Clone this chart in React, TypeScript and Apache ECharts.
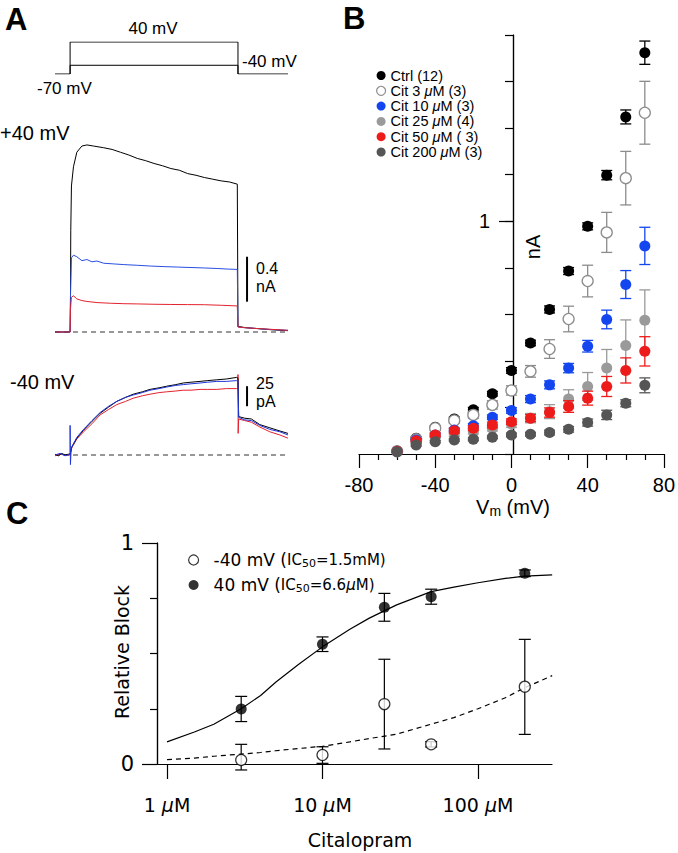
import React, { useEffect, useRef } from 'react';
import * as echarts from 'echarts';

const FONT_A = '"Liberation Sans", Arial, Helvetica, sans-serif';
const FONT_C = '"DejaVu Sans", Verdana, sans-serif';

// ---------- Panel A: voltage protocol (time in ms, mV) ----------
const protocolTo40: [number, number][] = [[-45, -70], [0, -70], [0, 40], [500, 40], [500, -70], [649, -70]];
const protocolToNeg40: [number, number][] = [[0, -70], [0, -40], [500, -40], [500, -70]];

// ---------- Panel A: +40 mV currents (nA) ----------
const top40Black: [number, number][] = [[-45, 0], [0, 0], [1, 0.25], [2, 0.9], [4, 1.3], [10, 1.47], [20, 1.6], [35, 1.655], [50, 1.665], [70, 1.655], [100, 1.64], [125, 1.625], [150, 1.6], [175, 1.575], [200, 1.545], [225, 1.525], [250, 1.5], [275, 1.48], [300, 1.455], [325, 1.44], [350, 1.41], [375, 1.395], [400, 1.375], [425, 1.36], [450, 1.345], [475, 1.335], [498, 1.316], [500, 0.05], [520, 0.04], [560, 0.03], [600, 0.02], [649, 0.012]];
const top40Blue: [number, number][] = [[-45, 0], [0, 0], [1, 0.3], [4, 0.66], [10, 0.684], [20, 0.67], [35, 0.635], [50, 0.645], [65, 0.625], [80, 0.632], [100, 0.612], [130, 0.606], [160, 0.6], [200, 0.594], [240, 0.587], [280, 0.582], [320, 0.578], [360, 0.574], [400, 0.57], [440, 0.565], [470, 0.56], [498, 0.557], [500, 0.045], [520, 0.038], [560, 0.03], [600, 0.022], [649, 0.015]];
const top40Red: [number, number][] = [[-45, 0], [0, 0], [1, 0.2], [4, 0.31], [10, 0.322], [20, 0.295], [35, 0.28], [50, 0.272], [80, 0.262], [120, 0.256], [160, 0.252], [200, 0.25], [250, 0.247], [300, 0.245], [350, 0.244], [400, 0.243], [450, 0.238], [498, 0.232], [500, 0.045], [530, 0.036], [580, 0.027], [649, 0.015]];
const scaleBarTop: [number, number][] = [[527, 0.27], [527, 0.67]]; // 0.4 nA

// ---------- Panel A: -40 mV currents (pA) ----------
const neg40Black: [number, number][] = [[-45, 1], [-35, -1], [-25, 2], [-15, 0], [-5, 1], [0, 1], [5, 10], [20, 21], [40, 31], [65, 42], [89, 52], [115, 60], [139, 67], [165, 72], [188, 76], [215, 79], [238, 82], [265, 84], [288, 86], [315, 88], [337, 90], [360, 91], [387, 92], [410, 93], [437, 94], [465, 95], [496, 97], [500, 96], [502, 48], [520, 46], [540, 45], [565, 38], [595, 34], [625, 30], [649, 27]];
const neg40Blue: [number, number][] = [[-45, 0], [-30, 2], [-15, -1], [0, 1], [0, 37], [1, -12], [3, 7], [5, 10], [20, 22], [40, 32], [65, 43], [89, 53], [115, 61], [139, 67], [165, 72], [188, 75], [215, 78], [238, 81], [265, 83], [288, 85], [315, 87], [337, 88], [360, 89], [387, 90], [410, 91], [437, 92], [465, 92], [496, 93], [500, 93], [502, 47], [520, 44], [540, 43], [565, 37], [595, 32], [625, 29], [649, 25]];
const neg40Red: [number, number][] = [[-45, -1], [-30, 1], [-15, 0], [0, 0], [5, 9], [20, 20], [40, 29], [65, 39], [89, 50], [115, 57], [139, 63], [165, 67], [188, 71], [215, 74], [238, 76], [265, 78], [288, 79], [315, 80], [337, 81], [360, 81], [387, 82], [410, 82], [437, 82], [465, 83], [496, 83], [500, 83], [500, 102], [500.5, 27], [502, 45], [520, 43], [540, 41], [565, 35], [595, 29], [625, 25], [649, 21]];
const scaleBarBottom: [number, number][] = [[527, 61], [527, 86]]; // 25 pA
const baselineTime = [-45, 649];

// ---------- Panel B: I-V (nA) ----------
const vm = [-60, -50, -40, -30, -20, -10, 0, 10, 20, 30, 40, 50, 60, 70];
const ctrl = [0.012, 0.068, 0.115, 0.15, 0.19, 0.259, 0.359, 0.477, 0.621, 0.786, 0.978, 1.198, 1.448, 1.724];
const ctrlErr = [0, 0.005, 0.005, 0.008, 0.01, 0.01, 0.012, 0.012, 0.015, 0.015, 0.015, 0.02, 0.03, 0.05];
const cit3 = [0.012, 0.063, 0.111, 0.144, 0.168, 0.211, 0.273, 0.355, 0.451, 0.58, 0.743, 0.952, 1.185, 1.466];
const cit3Err = [0, 0.01, 0.01, 0.012, 0.015, 0.018, 0.02, 0.025, 0.04, 0.055, 0.068, 0.086, 0.115, 0.135];
const cit10 = [0.012, 0.06, 0.082, 0.103, 0.121, 0.158, 0.187, 0.236, 0.297, 0.369, 0.463, 0.578, 0.728, 0.894];
const cit10Err = [0, 0.005, 0.008, 0.008, 0.01, 0.01, 0.012, 0.015, 0.017, 0.02, 0.025, 0.04, 0.06, 0.08];
const cit25 = [0.012, 0.053, 0.075, 0.086, 0.096, 0.111, 0.129, 0.154, 0.182, 0.236, 0.29, 0.369, 0.466, 0.575];
const cit25Err = [0, 0.005, 0.008, 0.01, 0.01, 0.012, 0.015, 0.02, 0.03, 0.04, 0.06, 0.08, 0.11, 0.13];
const cit50 = [0.012, 0.057, 0.082, 0.1, 0.111, 0.125, 0.139, 0.154, 0.178, 0.204, 0.24, 0.29, 0.359, 0.441];
const cit50Err = [0, 0.005, 0.008, 0.01, 0.01, 0.012, 0.012, 0.015, 0.02, 0.025, 0.03, 0.043, 0.054, 0.063];
const cit200 = [0.01, 0.039, 0.053, 0.06, 0.063, 0.072, 0.082, 0.085, 0.092, 0.106, 0.135, 0.168, 0.218, 0.295];
const cit200Err = [0, 0.005, 0.005, 0.005, 0.006, 0.006, 0.008, 0.008, 0.01, 0.012, 0.015, 0.02, 0.015, 0.032];
const bNames = ['Ctrl (12)', 'Cit 3 μM (3)', 'Cit 10 μM (3)', 'Cit 25 μM (4)', 'Cit 50 μM ( 3)', 'Cit 200 μM (3)'];
const bTicksX = [-80, -40, 0, 40, 80];

// ---------- Panel C: dose-response ----------
const conc = [3, 10, 25, 50, 200];
const block40 = [0.249, 0.542, 0.709, 0.757, 0.863];
const block40Err = [0.057, 0.033, 0.063, 0.034, 0.015];
const blockNeg40 = [0.018, 0.041, 0.271, 0.089, 0.35];
const blockNeg40ErrLo = [0.045, 0.038, 0.203, 0.012, 0.216];
const blockNeg40ErrHi = [0.071, 0.037, 0.203, 0.012, 0.214];
const fitConc = [1, 1.5, 2, 3, 4, 5, 7, 10, 15, 20, 30, 50, 70, 100, 150, 200, 300];
const fit40 = [0.1, 0.145, 0.18, 0.25, 0.31, 0.37, 0.45, 0.53, 0.61, 0.66, 0.72, 0.78, 0.8, 0.82, 0.84, 0.85, 0.856];
const fitNeg40 = [0.02, 0.027, 0.035, 0.045, 0.052, 0.06, 0.07, 0.08, 0.1, 0.115, 0.135, 0.18, 0.21, 0.25, 0.3, 0.345, 0.4];
const cNames = ['-40 mV (IC50=1.5mM)', '40 mV (IC50=6.6μM)'];
const cTickConc = [1, 10, 100];

function errBar(color: string, cap: number, width = 1.2) {
  return (params: any, api: any) => {
    const x = api.value(0);
    const lo = api.coord([x, api.value(1)]);
    const hi = api.coord([x, api.value(2)]);
    const st = { stroke: color, lineWidth: width };
    return {
      type: 'group',
      children: [
        { type: 'line', shape: { x1: lo[0], y1: lo[1], x2: hi[0], y2: hi[1] }, style: st },
        { type: 'line', shape: { x1: lo[0] - cap, y1: lo[1], x2: lo[0] + cap, y2: lo[1] }, style: st },
        { type: 'line', shape: { x1: hi[0] - cap, y1: hi[1], x2: hi[0] + cap, y2: hi[1] }, style: st },
      ],
    };
  };
}

export default function App() {
  const ref = useRef<HTMLDivElement>(null);
  useEffect(() => {
    if (!ref.current) return;
    const chart = echarts.init(ref.current, undefined, { renderer: 'svg' });

    const lineS = (data: any, color: string, xi: number, yi: number, extra: any = {}) => ({
      type: 'line', data, xAxisIndex: xi, yAxisIndex: yi, showSymbol: false, symbol: 'none',
      lineStyle: { color, width: 1, ...(extra.lineStyle || {}) }, silent: true, animation: false, z: extra.z ?? 2,
    });

    const bSets = [
      { name: bNames[0], y: ctrl, e: ctrlErr, fill: '#000000', stroke: '#000000', bar: '#000000' },
      { name: bNames[1], y: cit3, e: cit3Err, fill: '#ffffff', stroke: '#8c8c8c', bar: '#8c8c8c' },
      { name: bNames[2], y: cit10, e: cit10Err, fill: '#1446f0', stroke: '#1446f0', bar: '#1446f0' },
      { name: bNames[3], y: cit25, e: cit25Err, fill: '#9a9a9a', stroke: '#9a9a9a', bar: '#9a9a9a' },
      { name: bNames[4], y: cit50, e: cit50Err, fill: '#ee1b1b', stroke: '#ee1b1b', bar: '#ee1b1b' },
      { name: bNames[5], y: cit200, e: cit200Err, fill: '#555555', stroke: '#555555', bar: '#555555' },
    ];

    const bSeries: any[] = [];
    bSets.forEach((s, k) => {
      bSeries.push({
        type: 'custom', name: 'err' + k, xAxisIndex: 3, yAxisIndex: 3, silent: true, z: 3 + k * 2,
        renderItem: errBar(s.bar, 5.5, 1.3), encode: { x: 0, y: [1, 2] },
        data: vm.map((v, i) => [v, s.y[i] - s.e[i], s.y[i] + s.e[i]]).filter((d, i) => s.e[i] > 0),
      });
      bSeries.push({
        type: 'scatter', name: s.name, xAxisIndex: 3, yAxisIndex: 3, symbol: 'circle', symbolSize: 11, z: 4 + k * 2,
        itemStyle: { color: s.fill, borderColor: s.stroke, borderWidth: s.fill === '#ffffff' ? 1.3 : 0, opacity: 1 },
        data: vm.map((v, i) => [v, s.y[i]]), silent: true,
      });
    });

    const lg = (c: number) => Math.log10(c);
    const cSeries: any[] = [
      lineS(fitConc.map((c, i) => [lg(c), fit40[i]]), '#000', 4, 5, { lineStyle: { width: 1.2 } }),
      lineS(fitConc.map((c, i) => [lg(c), fitNeg40[i]]), '#000', 4, 5, { lineStyle: { width: 1.2, type: [5, 4] } }),
      {
        type: 'custom', name: 'errC40', xAxisIndex: 4, yAxisIndex: 5, silent: true, z: 3,
        renderItem: errBar('#000', 6, 1.2), encode: { x: 0, y: [1, 2] },
        data: conc.map((c, i) => [lg(c), block40[i] - block40Err[i], block40[i] + block40Err[i]]),
      },
      {
        type: 'custom', name: 'errCneg40', xAxisIndex: 4, yAxisIndex: 5, silent: true, z: 3,
        renderItem: errBar('#000', 6, 1.2), encode: { x: 0, y: [1, 2] },
        data: conc.map((c, i) => [lg(c), blockNeg40[i] - blockNeg40ErrLo[i], blockNeg40[i] + blockNeg40ErrHi[i]]),
      },
      {
        type: 'scatter', name: cNames[0], xAxisIndex: 4, yAxisIndex: 5, symbolSize: 11, z: 4, silent: true,
        itemStyle: { color: '#fff', borderColor: '#000', borderWidth: 1.2 },
        data: conc.map((c, i) => [lg(c), blockNeg40[i]]),
      },
      {
        type: 'scatter', name: cNames[1], xAxisIndex: 4, yAxisIndex: 5, symbolSize: 11, z: 4, silent: true,
        itemStyle: { color: '#000' },
        data: conc.map((c, i) => [lg(c), block40[i]]),
      },
    ];

    const hiddenX = (gi: number) => ({ type: 'value', gridIndex: gi, min: -45, max: 649, show: false });
    const axisLine = { show: true, onZero: false, lineStyle: { color: '#000', width: 1.2 } };
    // B's y axis sits at Vm = 0: offset from the grid's left edge (negative => rightwards)
    const bZeroOffset = -(308 * 80) / 160;

    const cLegendFmt = (name: string) => {
      const m = name.match(/^(.*\()IC50=(.*)\)$/);
      if (!m) return name;
      const val = m[2].replace('μ', '}{bi|μ}{b|');
      return `{a|${m[1]}}{b|IC}{s|50}{b|=${val})}`;
    };

    const option: any = {
      animation: false,
      backgroundColor: '#ffffff',
      grid: [
        { left: 55, top: 42, width: 233, height: 32 },
        { left: 55, top: 141, width: 233, height: 200 },
        { left: 55, top: 375, width: 233, height: 92 },
        { left: 359, top: 35, width: 308, height: 419 },
        { left: 157, top: 543, width: 395, height: 221 },
      ],
      xAxis: [
        hiddenX(0), hiddenX(1), hiddenX(2),
        {
          type: 'value', gridIndex: 3, min: -80, max: 80, interval: 40,
          axisLine,
          axisTick: { show: true, length: 14, lineStyle: { color: '#000', width: 1.2 } },
          minorTick: { show: true, splitNumber: 4, length: 6, lineStyle: { color: '#000', width: 1.2 } },
          axisLabel: { show: true, margin: 21, fontSize: 20, fontFamily: FONT_A, color: '#000',
            customValues: bTicksX },
          splitLine: { show: false },
        },
        {
          type: 'value', gridIndex: 4, min: -0.0643, max: 2.476,
          axisLine,
          axisTick: { show: true, length: 15, customValues: cTickConc.map(lg), lineStyle: { color: '#000', width: 1.2 } },
          axisLabel: {
            show: true, margin: 31, customValues: cTickConc.map(lg), fontSize: 19, fontFamily: FONT_C, color: '#000',
            formatter: (v: number) => `${Math.round(Math.pow(10, v))} {i|μ}M`,
            rich: { i: { fontStyle: 'italic', fontSize: 19, fontFamily: FONT_C, color: '#000' } },
          },
          splitLine: { show: false },
        },
      ],
      yAxis: [
        { type: 'value', gridIndex: 0, min: -70, max: 40, show: false },
        { type: 'value', gridIndex: 1, min: -0.08, max: 1.7, show: false },
        { type: 'value', gridIndex: 2, min: -15, max: 100, show: false },
        {
          type: 'value', gridIndex: 3, position: 'left', offset: bZeroOffset, min: 0, max: 1.8, interval: 0.2,
          axisLine,
          axisTick: { show: true, length: 8, lineStyle: { color: '#000', width: 1.2 } },
          axisLabel: { show: false }, splitLine: { show: false },
        },
        {
          type: 'value', gridIndex: 3, position: 'left', offset: bZeroOffset, min: 0, max: 1.8,
          axisLine,
          axisTick: { show: true, length: 14, customValues: [1], lineStyle: { color: '#000', width: 1.2 } },
          axisLabel: { show: true, customValues: [1], margin: 23, fontSize: 20, fontFamily: FONT_A, color: '#000' },
          splitLine: { show: false },
        },
        {
          type: 'value', gridIndex: 4, position: 'left', min: 0, max: 1,
          axisLine,
          axisTick: { show: true, length: 15, customValues: [0, 1], lineStyle: { color: '#000', width: 1.2 } },
          axisLabel: { show: true, customValues: [0, 1], margin: 23, fontSize: 21, fontFamily: FONT_C, color: '#000' },
          splitLine: { show: false },
        },
        {
          type: 'value', gridIndex: 4, position: 'left', min: 0, max: 1,
          axisLine,
          axisTick: { show: true, length: 7, customValues: [0.25, 0.5, 0.75], lineStyle: { color: '#000', width: 1.2 } },
          axisLabel: { show: false }, splitLine: { show: false },
        },
      ],
      legend: [
        {
          left: 371, top: 63, orient: 'vertical', itemWidth: 9, itemHeight: 9, itemGap: 0.3, selectedMode: false,
          textStyle: { fontFamily: FONT_A, fontSize: 14.5, lineHeight: 15, color: '#000',
            rich: { i: { fontStyle: 'italic', fontFamily: FONT_A, fontSize: 14.5, lineHeight: 15, color: '#000' } } },
          formatter: (name: string) => name.replace('μ', '{i|μ}'),
          data: bSets.map((s) => ({ name: s.name, icon: 'circle',
            itemStyle: { color: s.fill, borderColor: s.stroke, borderWidth: s.fill === '#ffffff' ? 1.2 : 0 } })),
        },
        {
          left: 183, top: 546, orient: 'vertical', itemWidth: 10, itemHeight: 10, itemGap: 7, selectedMode: false,
          textStyle: {
            fontFamily: FONT_C, fontSize: 17, lineHeight: 18, color: '#000',
            rich: {
              a: { fontFamily: FONT_C, fontSize: 17, lineHeight: 18, color: '#000', padding: [0, 0, 0, 10] },
              b: { fontFamily: FONT_C, fontSize: 15, lineHeight: 18, color: '#000' },
              bi: { fontFamily: FONT_C, fontSize: 15, lineHeight: 18, fontStyle: 'italic', color: '#000' },
              s: { fontFamily: FONT_C, fontSize: 11, lineHeight: 10, verticalAlign: 'bottom', color: '#000' },
            },
          },
          formatter: cLegendFmt,
          data: [
            { name: cNames[0], icon: 'circle', itemStyle: { color: '#fff', borderColor: '#000', borderWidth: 1.2 } },
            { name: cNames[1], icon: 'circle', itemStyle: { color: '#000', borderWidth: 0 } },
          ],
        },
      ],
      graphic: {
        elements: [
          { type: 'text', x: 5, y: 19, style: { text: 'A', fontFamily: FONT_A, fontWeight: 'bold', fontSize: 31, fill: '#000', textVerticalAlign: 'middle' } },
          { type: 'text', x: 343, y: 18, style: { text: 'B', fontFamily: FONT_A, fontWeight: 'bold', fontSize: 31, fill: '#000', textVerticalAlign: 'middle' } },
          { type: 'text', x: 6, y: 513, style: { text: 'C', fontFamily: FONT_A, fontWeight: 'bold', fontSize: 31, fill: '#000', textVerticalAlign: 'middle' } },
          { type: 'text', x: 153, y: 28, style: { text: '40 mV', fontFamily: FONT_A, fontSize: 17, fill: '#000', textAlign: 'center', textVerticalAlign: 'middle' } },
          { type: 'text', x: 242, y: 61, style: { text: '-40 mV', fontFamily: FONT_A, fontSize: 17, fill: '#000', textVerticalAlign: 'middle' } },
          { type: 'text', x: 37, y: 88, style: { text: '-70 mV', fontFamily: FONT_A, fontSize: 17, fill: '#000', textVerticalAlign: 'middle' } },
          { type: 'text', x: 0, y: 133, style: { text: '+40 mV', fontFamily: FONT_A, fontSize: 20, fill: '#000', textVerticalAlign: 'middle' } },
          { type: 'text', x: 256, y: 268, style: { text: '0.4', fontFamily: FONT_A, fontSize: 16, fill: '#000', textVerticalAlign: 'middle' } },
          { type: 'text', x: 256, y: 286, style: { text: 'nA', fontFamily: FONT_A, fontSize: 16, fill: '#000', textVerticalAlign: 'middle' } },
          { type: 'text', x: 10, y: 382, style: { text: '-40 mV', fontFamily: FONT_A, fontSize: 20, fill: '#000', textVerticalAlign: 'middle' } },
          { type: 'text', x: 256, y: 383, style: { text: '25', fontFamily: FONT_A, fontSize: 16, fill: '#000', textVerticalAlign: 'middle' } },
          { type: 'text', x: 256, y: 401, style: { text: 'pA', fontFamily: FONT_A, fontSize: 16, fill: '#000', textVerticalAlign: 'middle' } },
          { type: 'text', x: 533, y: 247, rotation: Math.PI / 2, style: { text: 'nA', fontFamily: FONT_A, fontSize: 20, fill: '#000', textAlign: 'center', textVerticalAlign: 'middle' } },
          {
            type: 'text', x: 513, y: 507,
            style: {
              text: '{v|V}{s|m}{v| (mV)}', textAlign: 'center', textVerticalAlign: 'middle',
              rich: {
                v: { fontFamily: FONT_A, fontSize: 20, lineHeight: 22, fill: '#000', color: '#000' },
                s: { fontFamily: FONT_A, fontSize: 14, lineHeight: 12, verticalAlign: 'bottom', fill: '#000', color: '#000' },
              },
            },
          },
          { type: 'text', x: 122, y: 652, rotation: Math.PI / 2, style: { text: 'Relative Block', fontFamily: FONT_C, fontSize: 19, fill: '#000', textAlign: 'center', textVerticalAlign: 'middle' } },
          { type: 'text', x: 360, y: 840, style: { text: 'Citalopram', fontFamily: FONT_C, fontSize: 19, fill: '#000', textAlign: 'center', textVerticalAlign: 'middle' } },
        ],
      },
      series: [
        lineS(protocolTo40, '#000', 0, 0),
        lineS(protocolToNeg40, '#000', 0, 0),
        lineS(baselineTime.map((t) => [t, 0]), '#333', 1, 1, { lineStyle: { type: [5, 4] }, z: 1 }),
        lineS(top40Black, '#000', 1, 1),
        lineS(top40Blue, '#2a4fe0', 1, 1),
        lineS(top40Red, '#e3222e', 1, 1),
        lineS(scaleBarTop, '#000', 1, 1, { lineStyle: { width: 2 } }),
        lineS(baselineTime.map((t) => [t, 0]), '#333', 2, 2, { lineStyle: { type: [5, 4] }, z: 1 }),
        lineS(neg40Red, '#e3222e', 2, 2),
        lineS(neg40Black, '#000', 2, 2),
        lineS(neg40Blue, '#2036d8', 2, 2),
        lineS(scaleBarBottom, '#000', 2, 2, { lineStyle: { width: 2 } }),
        ...bSeries,
        ...cSeries,
      ],
    };

    chart.setOption(option);
    return () => chart.dispose();
  }, []);

  return <div ref={ref} style={{ position: 'absolute', left: 0, top: 0, width: 678, height: 853 }} />;
}
